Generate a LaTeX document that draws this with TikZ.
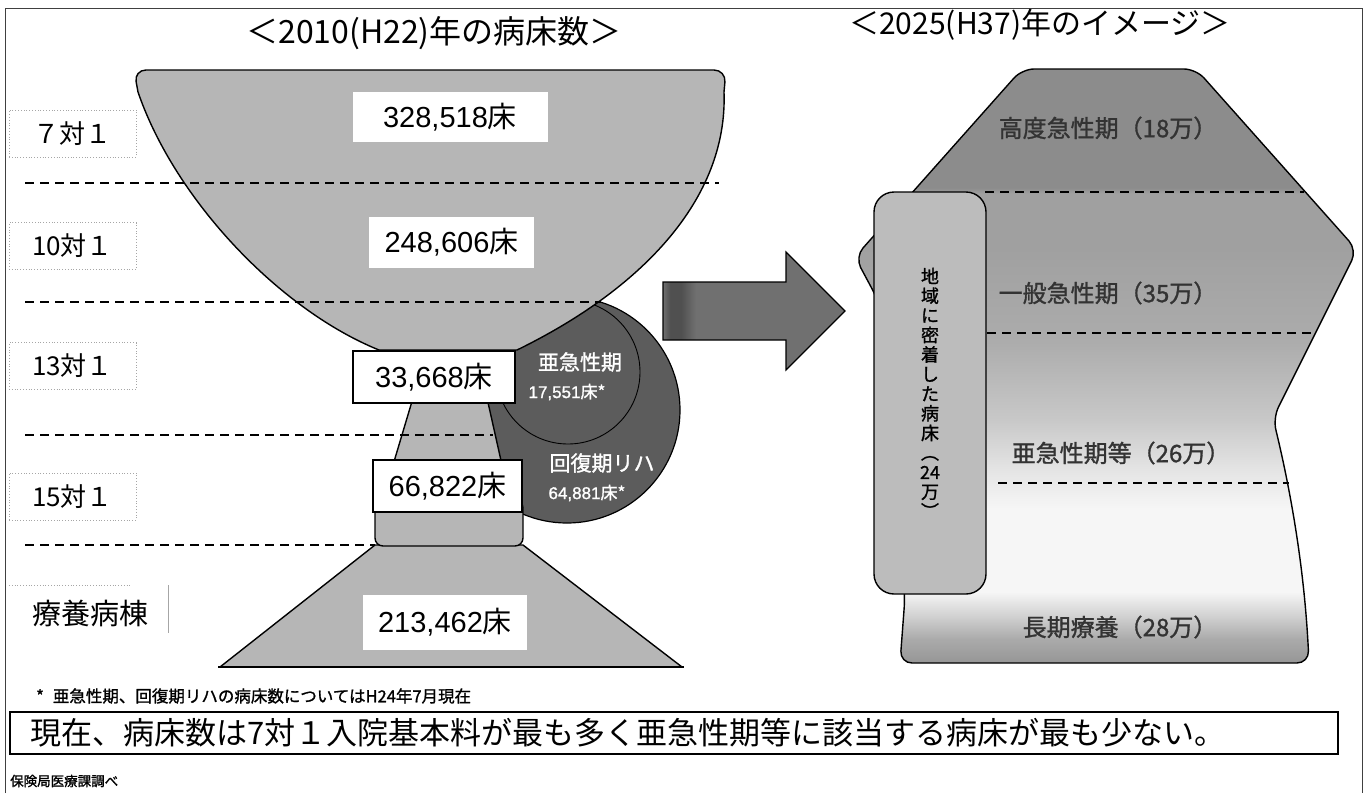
\documentclass[tikz,border=0pt]{standalone}
\usepackage{fontspec}
\setmainfont{Noto Sans CJK JP}
\newfontfamily\lat{Liberation Sans}
\newfontfamily\jpb[FakeBold=1.2]{Noto Sans CJK JP}
\newfontfamily\latb[FakeBold=1.2]{Liberation Sans}
\definecolor{cupc}{RGB}{182,182,182}
\definecolor{darkc}{RGB}{92,92,92}
\definecolor{tallc}{RGB}{188,188,188}
\definecolor{ra}{RGB}{150,150,150}
\definecolor{rb}{RGB}{170,170,170}
\definecolor{rc}{RGB}{210,210,210}
\definecolor{rd}{RGB}{246,246,246}
\definecolor{re}{RGB}{228,228,228}
\definecolor{rf}{RGB}{200,200,200}
\definecolor{rg}{RGB}{172,172,172}
\definecolor{rh}{RGB}{160,160,160}
\definecolor{ri}{RGB}{140,140,140}
\pgfdeclareverticalshading{rshade}{100bp}{color(0bp)=(ra); color(25bp)=(ra); color(27bp)=(rb); color(29bp)=(rc); color(31bp)=(rd); color(38bp)=(rd); color(41.3bp)=(re); color(45.5bp)=(rf); color(52bp)=(rg); color(60bp)=(rh); color(64.5bp)=(rh); color(65bp)=(ri); color(75bp)=(ri); color(100bp)=(ri)}
\definecolor{aa}{RGB}{80,80,80}
\definecolor{ab}{RGB}{112,112,112}
\pgfdeclarehorizontalshading{ashade}{100bp}{color(0bp)=(ab); color(25bp)=(ab); color(27bp)=(aa); color(30bp)=(aa); color(34bp)=(ab); color(75bp)=(ab); color(100bp)=(ab)}
\tikzset{
  fs/.style={font=\fontsize{#1}{#1}\selectfont},
  cup/.style={fill=cupc, draw=black, line width=1.4pt, line join=round},
  sep/.style={draw=black, line width=2pt, dash pattern=on 9pt off 6pt},
  labbox/.style={draw=gray!70, dotted, line width=0.8pt, fill=white, minimum width=127pt, minimum height=47pt, inner sep=0pt, fs=26},
  numbox/.style={fill=white, inner sep=0pt, fs=29},
  dkcircle/.style={fill=darkc, draw=black, line width=1.2pt},
  wtext/.style={text=white, inner sep=0pt},
  rtext/.style={text=black!80, inner sep=0pt, font=\fontsize{24}{24}\jpb},
}
\begin{document}
\begin{tikzpicture}[x=1pt,y=-1pt]
\useasboundingbox (0,0) rectangle (1368,793);
% frame
\draw[black!75, line width=1pt] (5,793) -- (5,8) -- (1362,8) -- (1362,793);
% titles
\node[fs=32, inner sep=0pt] (t1) at (434,33) {＜2010(H22)年の病床数＞};
\node[fs=30, inner sep=0pt] (t2) at (1040,25) {＜2025(H37)年のイメージ＞};
% dark circles (behind cup)
\draw[dkcircle] (567,410) circle[radius=113];
\draw[dkcircle, line width=0.9pt] (568,372) circle[radius=72];
% bottom trapezoid
\draw[cup] (375,545) -- (523,545) -- (682,667) -- (220,667) -- cycle;
\draw[black, line width=2.6pt] (218,667) -- (684,667);
% band under 66,822
\draw[cup, rounded corners=8] (375,500) rectangle (523,546);
% neck
\draw[cup] (413,398) -- (487,398) -- (502,465) -- (393,465) -- cycle;
% bowl
\draw[cup] (379,350) -- (517,350) .. controls (640,290) and (728,200) .. (724,92)
  [rounded corners=12] -- (726,70) -- (134,70) [sharp corners] -- (138,92)
  .. controls (175,200) and (280,310) .. (379,350) -- cycle;
% separators
\draw[sep] (25,183) -- (719,183);
\draw[sep] (25,302) -- (601,302);
\draw[sep] (25,435) -- (493,435);
\draw[sep] (25,545) -- (375,545);
% left labels
\node[labbox] (l7) at (72.5,133.5) {７対１};
\node[labbox] (l10) at (72.5,246) {10対１};
\node[labbox] (l13) at (72.5,366) {13対１};
\node[labbox] (l15) at (72.5,496.5) {15対１};
\draw[gray!70, dotted, line width=0.8pt] (9,585) -- (130,585);
\draw[gray!70, line width=0.8pt] (168,585) -- (168,633);
\node[fs=29, inner sep=0pt] (lr) at (90,613) {療養病棟};
% number boxes
\node[numbox, minimum width=195pt, minimum height=50pt] (n1) at (450,117) {{\lat 328,518}床};
\node[numbox, minimum width=165pt, minimum height=51pt] (n2) at (451.5,242.5) {{\lat 248,606}床};
\node[numbox, draw=black, line width=1.2pt, minimum width=162pt, minimum height=52pt] (n3) at (434,377) {{\lat 33,668}床};
\node[numbox, draw=black, line width=1.2pt, minimum width=149pt, minimum height=52pt] (n4) at (447.5,486) {{\lat 66,822}床};
\node[numbox, minimum width=164pt, minimum height=55pt] (n5) at (445,622.5) {{\lat 213,462}床};
% circle texts
\node[wtext, font=\fontsize{21}{21}\jpb] (c1) at (580,362) {亜急性期};
\node[wtext, font=\fontsize{17}{17}\jpb] (c2) at (567,392) {{\latb 17,551}床*};
\node[wtext, font=\fontsize{21}{21}\jpb] (c3) at (602,463) {回復期リハ};
\node[wtext, font=\fontsize{17}{17}\jpb] (c4) at (587,493) {{\latb 64,881}床*};
% arrow
\shade[shading=ashade, draw=black, line width=1.2pt, line join=miter]
  (663,282) -- (786,282) -- (786,252) -- (845,311) -- (786,370) -- (786,340) -- (663,340) -- cycle;
% right shape
\shade[shading=rshade, draw=black, line width=1.4pt, rounded corners=12]
  (1022,69) -- (1196,69) -- (1357,250) -- (1273,418)
  .. controls (1288,480) and (1304,560) .. (1309,663) -- (900,663)
  -- (905,597) -- (878,300) -- (855,257) -- cycle;
\draw[sep] (985,192) -- (1304,192);
\draw[sep] (987,333) -- (1312,333);
\draw[sep] (998,483) -- (1289,483);
\node[rtext] (r1) at (1108,128) {高度急性期（18万）};
\node[rtext] (r2) at (1108,293) {一般急性期（35万）};
\node[rtext] (r3) at (1121,453) {亜急性期等（26万）};
\node[rtext] (r4) at (1120,627) {長期療養（28万）};
% tall box
\draw[fill=tallc, draw=black, line width=1.4pt, rounded corners=20] (874,192) rectangle (986,594);
\node[align=center, inner sep=0pt, font=\fontsize{18}{19.6}\jpb] (tv) at (930,393)
  {地\\域\\に\\密\\着\\し\\た\\病\\床\\︵\\24\\万\\︶};
% footnote and conclusion
\node[anchor=west, inner sep=0pt, font=\fontsize{16.5}{16.5}\jpb] (fn) at (36,696) {*\hspace{9pt}亜急性期、回復期リハの病床数についてはH24年7月現在};
\draw[black, line width=1.5pt] (10,712) rectangle (1338,754);
\node[anchor=west, inner sep=0pt, fs=31] (cc) at (30,733) {現在、病床数は7対１入院基本料が最も多く亜急性期等に該当する病床が最も少ない。};
\node[anchor=west, inner sep=0pt, font=\fontsize{13.5}{13.5}\jpb] (src) at (10,781) {保険局医療課調べ};
\end{tikzpicture}
\end{document}
